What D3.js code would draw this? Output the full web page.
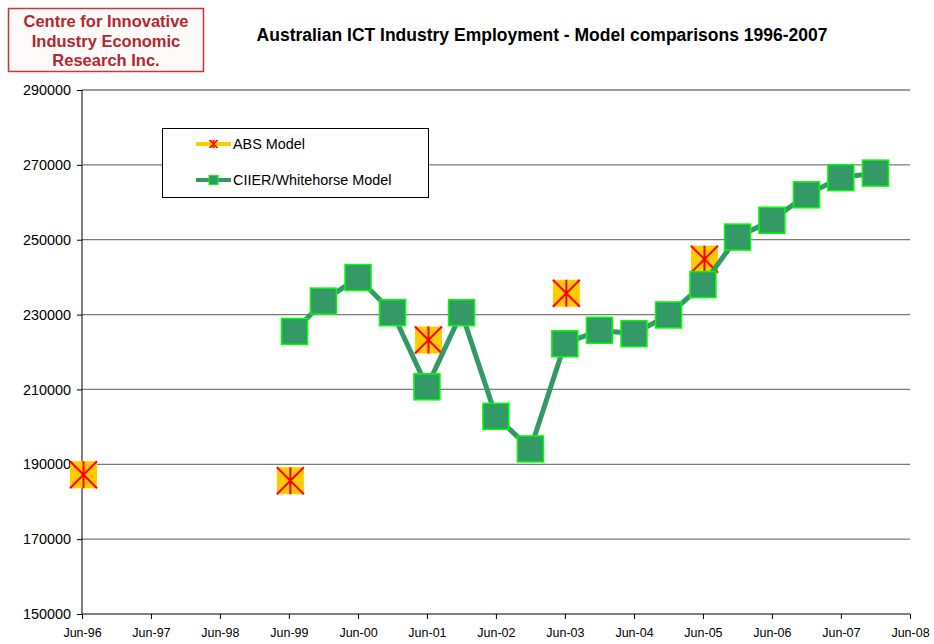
<!DOCTYPE html>
<html>
<head>
<meta charset="utf-8">
<script src="https://cdn.jsdelivr.net/npm/d3@7"></script>
<style>
  body { margin: 0; background: #fff; }
  svg { display: block; font-family: Arial, "Liberation Sans", sans-serif; }
</style>
</head>
<body>
<svg id="chart" width="934" height="644"></svg>
<script>
const xTickLabels = ["Jun-96", "Jun-97", "Jun-98", "Jun-99", "Jun-00", "Jun-01",
  "Jun-02", "Jun-03", "Jun-04", "Jun-05", "Jun-06", "Jun-07", "Jun-08"];
const yTicks = [150000, 170000, 190000, 210000, 230000, 250000, 270000, 290000];

const absDates = ["1996-06", "1999-06", "2001-06", "2003-06", "2005-06"];
const absValues = [187200, 185600, 223200, 235700, 244800];

const ciierDates = ["1999-07", "1999-12", "2000-06", "2000-12", "2001-06", "2001-12",
  "2002-06", "2002-12", "2003-06", "2003-12", "2004-06", "2004-12", "2005-06",
  "2005-12", "2006-06", "2006-12", "2007-06", "2007-12"];
const ciierValues = [225500, 233600, 239900, 230500, 210700, 230500, 202800, 194100,
  222200, 225800, 224900, 229900, 238000, 250700, 255200, 262000, 266600, 267800];

const seriesNames = ["ABS Model", "CIIER/Whitehorse Model"];

const color = {
  absFill: "#ffcc00",
  absStar: "#ff0000",
  ciier: "#339966",
  ciierEdge: "#00ff00",
  grid: "#7a7a7a",
  logo: "#b3272e",
};

const parseMonth = d3.timeParse("%Y-%m");
const parseTick = d3.timeParse("%b-%y");

const svg = d3.select("#chart");

const x = d3
  .scaleTime()
  .domain([parseTick("Jun-96"), parseTick("Jun-08")])
  .range([82, 910]);

const y = d3.scaleLinear().domain([150000, 290000]).range([614, 90]);

// gridlines
svg
  .append("g")
  .selectAll("line")
  .data(yTicks.slice(1))
  .join("line")
  .attr("x1", x.range()[0])
  .attr("x2", x.range()[1])
  .attr("y1", (d) => y(d))
  .attr("y2", (d) => y(d))
  .style("stroke", color.grid)
  .style("stroke-width", 1.3);

// axes
const yAxis = svg
  .append("g")
  .attr("transform", `translate(${x.range()[0]},0)`)
  .call(d3.axisLeft(y).tickValues(yTicks).tickFormat(d3.format("d")).tickSize(5).tickPadding(6));

const xAxis = svg
  .append("g")
  .attr("transform", `translate(0,${y.range()[0]})`)
  .call(
    d3
      .axisBottom(x)
      .tickValues(xTickLabels.map(parseTick))
      .tickFormat(d3.timeFormat("%b-%y"))
      .tickSize(5)
      .tickSizeOuter(0)
      .tickPadding(9)
  );

yAxis.select(".domain").attr("d", `M0,${y.range()[0]}V${y.range()[1]}`);
xAxis.select(".domain").attr("d", `M${x.range()[0]},0H${x.range()[1]}`);

svg.selectAll(".domain, .tick line").style("stroke", "#000").style("stroke-width", 1);
yAxis.selectAll("text").style("font-size", "14.4px").style("fill", "#000").attr("font-family", null);
xAxis.selectAll("text").style("font-size", "12.5px").style("fill", "#000").attr("font-family", null);

// ABS markers (no connecting line, gaps in the data)
function drawAsterisk(g, size, lineWidth) {
  const h = size / 2;
  g.append("rect")
    .attr("x", -h)
    .attr("y", -h)
    .attr("width", size)
    .attr("height", size)
    .attr("fill", color.absFill);
  g.append("path")
    .attr("d", `M${-h},${-h}L${h},${h}M${h},${-h}L${-h},${h}M0,${-h}V${h}`)
    .style("stroke", color.absStar)
    .style("stroke-width", lineWidth)
    .style("fill", "none");
}

const absData = absDates.map((d, i) => ({ date: parseMonth(d), value: absValues[i] }));
const ciierData = ciierDates.map((d, i) => ({ date: parseMonth(d), value: ciierValues[i] }));

svg
  .append("g")
  .selectAll("g")
  .data(absData)
  .join("g")
  .attr("transform", (d) => `translate(${x(d.date) + 1.5},${y(d.value)})`)
  .each(function () {
    drawAsterisk(d3.select(this), 27, 2);
  });

// CIIER line + markers
svg
  .append("path")
  .datum(ciierData)
  .attr(
    "d",
    d3
      .line()
      .x((d) => x(d.date))
      .y((d) => y(d.value))
  )
  .style("fill", "none")
  .style("stroke", color.ciier)
  .style("stroke-width", 5);

svg
  .append("g")
  .selectAll("rect")
  .data(ciierData)
  .join("rect")
  .attr("x", (d) => x(d.date) - 13)
  .attr("y", (d) => y(d.value) - 13)
  .attr("width", 26)
  .attr("height", 26)
  .attr("fill", color.ciier)
  .style("stroke", color.ciierEdge)
  .style("stroke-width", 1.5);

// legend
const legend = svg.append("g");
legend
  .append("rect")
  .attr("x", 162.5)
  .attr("y", 128.5)
  .attr("width", 266)
  .attr("height", 69)
  .attr("fill", "#fff")
  .style("stroke", "#000")
  .style("stroke-width", 1);

const legendRows = legend
  .selectAll("g")
  .data(seriesNames)
  .join("g")
  .attr("transform", (d, i) => `translate(196,${144 + i * 36})`);

legendRows
  .append("line")
  .attr("x1", 0)
  .attr("x2", 35)
  .style("stroke", (d, i) => (i == 0 ? color.absFill : color.ciier))
  .style("stroke-width", 4);

legendRows.each(function (d, i) {
  const g = d3.select(this).append("g").attr("transform", "translate(17.5,0)");
  if (i == 0) {
    drawAsterisk(g, 8, 1.5);
  } else {
    g.append("rect")
      .attr("x", -4.5)
      .attr("y", -4.5)
      .attr("width", 9)
      .attr("height", 9)
      .attr("fill", color.ciier)
      .style("stroke", color.ciierEdge)
      .style("stroke-width", 1);
  }
});

legendRows
  .append("text")
  .attr("x", 37)
  .attr("y", 5)
  .style("font-size", "14.4px")
  .text((d) => d);

// title
svg
  .append("text")
  .attr("x", 542)
  .attr("y", 41)
  .attr("text-anchor", "middle")
  .style("font-size", "17.5px")
  .style("font-weight", "bold")
  .text("Australian ICT Industry Employment - Model comparisons 1996-2007");

// logo box
const logo = svg.append("g");
logo
  .append("rect")
  .attr("x", 8.5)
  .attr("y", 8.5)
  .attr("width", 195)
  .attr("height", 63)
  .attr("fill", "#fffafa")
  .style("stroke", "#d0323a")
  .style("stroke-width", 1.5);

logo
  .selectAll("text")
  .data(["Centre for Innovative", "Industry Economic", "Research Inc."])
  .join("text")
  .attr("x", 106)
  .attr("y", (d, i) => 27 + i * 19.5)
  .attr("text-anchor", "middle")
  .style("font-size", "16.5px")
  .style("font-weight", "bold")
  .style("fill", color.logo)
  .text((d) => d);
</script>
</body>
</html>
